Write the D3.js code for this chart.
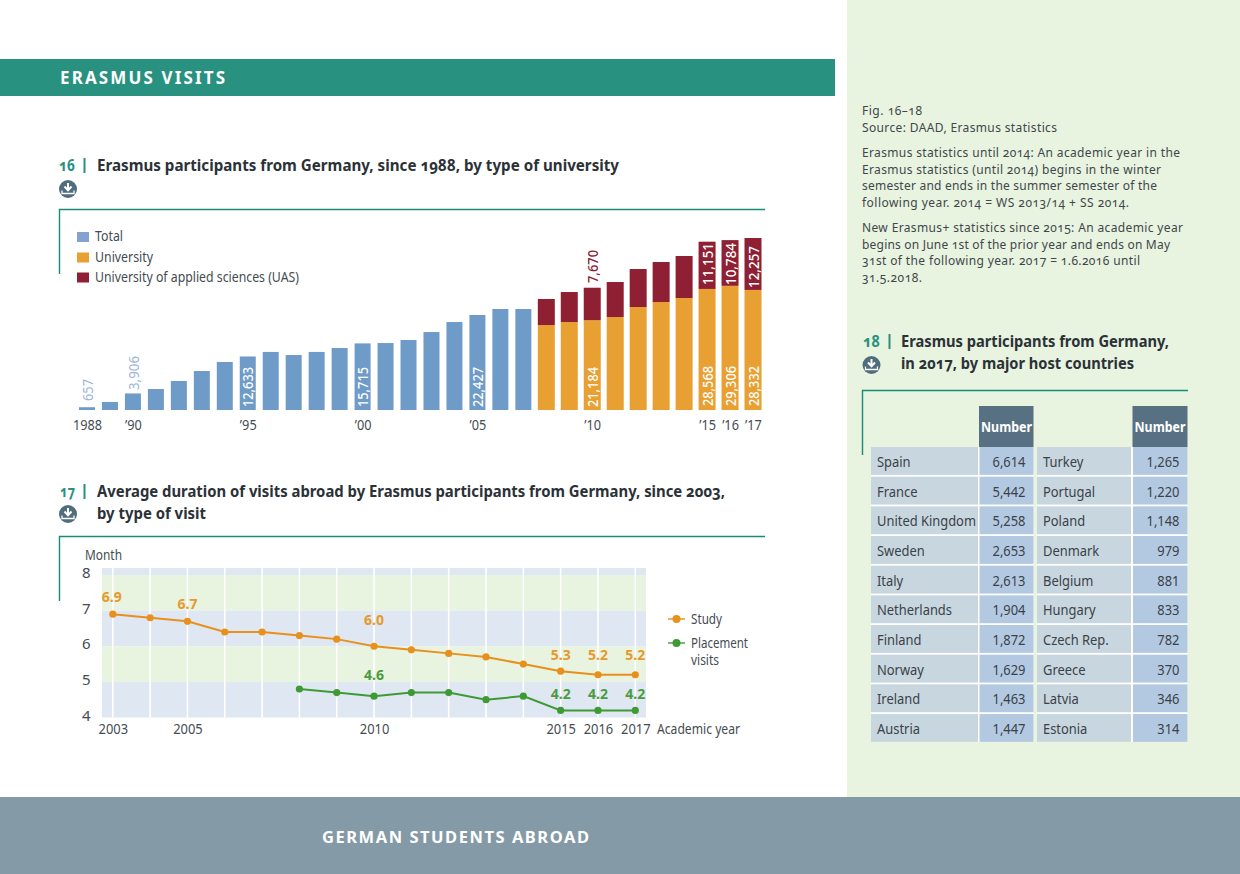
<!DOCTYPE html>
<html><head><meta charset="utf-8">
<script src="https://cdn.jsdelivr.net/npm/d3@7"></script>
<style>
html,body{margin:0;padding:0;background:#fff}
svg{display:block}
text{font-family:"Noto Sans",sans-serif;font-variant-numeric:oldstyle-nums}
.lin text,text.lin{font-variant-numeric:lining-nums}
</style></head><body>
<svg id="c" width="1240" height="874"></svg>
<script>
// ---- data ----
const barYears=d3.range(1988,2018);
const totalValues=[657,1900,3906,4950,6850,9200,11330,12633,13700,12980,13700,14630,15715,15800,16520,18400,20760,22427,23830,23830];
const uniYears=d3.range(2008,2018);
const universityValues=[20050,20760,21184,21940,24300,25480,26430,28568,29306,28332];
const uasValues=[6140,7080,7670,8260,8970,9440,9910,11151,10784,12257];
const barTickYears=[1988,1990,1995,2000,2005,2010,2015,2016,2017];
const barTickLabels=["1988","’90","’95","’00","’05","’10","’15","’16","’17"];
const legendLabels=["Total","University","University of applied sciences (UAS)"];

const studyYears=d3.range(2003,2018);
const studyValues=[6.9,6.8,6.7,6.4,6.4,6.3,6.2,6.0,5.9,5.8,5.7,5.5,5.3,5.2,5.2];
const placementYears=d3.range(2008,2018);
const placementValues=[4.8,4.7,4.6,4.7,4.7,4.5,4.6,4.2,4.2,4.2];
const lineTickYears=[2003,2005,2010,2015,2016,2017];
const monthTicks=[4,5,6,7,8];

const hostLeft=["Spain","France","United Kingdom","Sweden","Italy","Netherlands","Finland","Norway","Ireland","Austria"];
const hostLeftN=["6,614","5,442","5,258","2,653","2,613","1,904","1,872","1,629","1,463","1,447"];
const hostRight=["Turkey","Portugal","Poland","Denmark","Belgium","Hungary","Czech Rep.","Greece","Latvia","Estonia"];
const hostRightN=["1,265","1,220","1,148","979","881","833","782","370","346","314"];

const noteLines=["Fig. 16–18","Source: DAAD, Erasmus statistics",
"Erasmus statistics until 2014: An academic year in the","Erasmus statistics (until 2014) begins in the winter","semester and ends in the summer semester of the","following year. 2014 = WS 2013/14 + SS 2014.",
"New Erasmus+ statistics since 2015: An academic year","begins on June 1st of the prior year and ends on May","31st of the following year. 2017 = 1.6.2016 until","31.5.2018."];

// ---- colours ----
const C={teal:"#28917f",tealLine:"#1a8a78",panel:"#e8f3e0",foot:"#849aa6",ink:"#2b3237",soft:"#444c52",
 blue:"#6f9bc9",orange:"#e8a032",red:"#8f1f32",legBlue:"#84a2cf",lightBlue:"#9db6d9",
 bandB:"#dfe7f3",bandG:"#e8f3e0",lo:"#e8901c",lg:"#3f9a35",lbO:"#e69a2c",lbG:"#4b9c3d",
 head:"#587182",cellA:"#c8d6e0",cellB:"#b3c9e2",icon:"#4f6d7c"};

const svg=d3.select("#c");
function T(g,x,y,s,o={}){
 const t=g.append("text").attr("x",x).attr("y",y).text(s)
  .attr("fill",o.fill||C.soft).attr("font-size",o.size||13).attr("font-weight",o.weight||400)
  .attr("text-anchor",o.anchor||"start");
 if(o.lin)t.classed("lin",true);
 if(o.width)t.attr("textLength",o.width).attr("lengthAdjust",o.adjust||"spacingAndGlyphs");
 return t;
}
function squeeze(sel,f){sel.each(function(){const w=this.getComputedTextLength();d3.select(this).attr("textLength",w*f).attr("lengthAdjust","spacingAndGlyphs")});}
function R(g,x,y,w,h,f){return g.append("rect").attr("x",x).attr("y",y).attr("width",w).attr("height",h).attr("fill",f);}
function icon(g,cx,cy){
 g.append("circle").attr("cx",cx).attr("cy",cy).attr("r",9).attr("fill",C.icon);
 g.append("path").attr("d",`M${cx} ${cy-6}V${cy+1}M${cx-3.5} ${cy-2.5}L${cx} ${cy+1.2}L${cx+3.5} ${cy-2.5}`).attr("stroke","#fff").attr("stroke-width",2).attr("fill","none");
 g.append("path").attr("d",`M${cx-6} ${cy+1.5}V${cy+4.5}H${cx+6}V${cy+1.5}`).attr("stroke","#fff").attr("stroke-width",1.3).attr("fill","none");
}
function bracket(g,x0,x1,y0,y1){g.append("path").attr("d",`M${x0} ${y1}V${y0}H${x1}`).attr("fill","none").attr("stroke",C.tealLine).attr("stroke-width",1.4);}
function title(g,num,nx,nw,bx,tx,rows){
 T(g,nx,rows[0][1],num,{fill:C.teal,weight:700,size:16,width:nw});
 R(g,bx,rows[0][1]-13,2,15,C.teal);
 rows.forEach(r=>T(g,tx,r[1],r[0],{fill:C.ink,weight:700,size:15.5,width:r[2]}));
}

// ---- page ----
R(svg,847,0,393,797,C.panel);
R(svg,0,59,835,37,C.teal);
R(svg,0,797,1240,77,C.foot);
T(svg,60,84,"ERASMUS VISITS",{fill:"#fff",weight:700,size:17,width:165,adjust:"spacing"});
T(svg,322,843,"GERMAN STUDENTS ABROAD",{fill:"#fff",weight:700,size:16.5,width:267,adjust:"spacing"});

title(svg,"16",59,16,83.5,97,[["Erasmus participants from Germany, since 1988, by type of university",171,522]]);
icon(svg,68,189);
bracket(svg,59.5,765,209.5,274);
title(svg,"17",60,15,83.5,97,[["Average duration of visits abroad by Erasmus participants from Germany, since 2003,",497,628],["by type of visit",519,109]]);
icon(svg,68,514);
bracket(svg,59.5,765,536.5,601);
title(svg,"18",863,17,888.5,901,[["Erasmus participants from Germany,",347,268],["in 2017, by major host countries",369,233]]);
icon(svg,871.5,365);
bracket(svg,862.5,1188,390.5,455);

// notes
const noteY=[115,132,157,174,190,207,232,249,265,282];
const noteW=[60,195,318,299,295,267,321,308,278,60];
noteLines.forEach((s,i)=>T(svg,862,noteY[i],s,{size:12,fill:"#3f474c",width:noteW[i],adjust:"spacing"}));

// ---- chart 16 ----
const g16=svg.append("g");
const bx=d3.scaleLinear().domain([1988,2017]).range([87,753]);
const by=d3.scaleLinear().domain([0,40589]).range([410,238]);
const bw=16;
g16.selectAll("rect.t").data(totalValues).join("rect").attr("class","t")
 .attr("x",(d,i)=>bx(barYears[i])-bw/2).attr("width",bw).attr("y",d=>by(d)).attr("height",d=>by(0)-by(d)).attr("fill",C.blue);
g16.selectAll("rect.u").data(universityValues).join("rect").attr("class","u")
 .attr("x",(d,i)=>bx(uniYears[i])-bw/2-.5).attr("width",bw+1).attr("y",d=>by(d)).attr("height",d=>by(0)-by(d)).attr("fill",C.orange);
g16.selectAll("rect.r").data(uasValues).join("rect").attr("class","r")
 .attr("x",(d,i)=>bx(uniYears[i])-bw/2-.5).attr("width",bw+1).attr("y",(d,i)=>by(d+universityValues[i])).attr("height",d=>by(0)-by(d)).attr("fill",C.red);

const axB=g16.append("g").attr("class","lin").attr("transform","translate(0,416)")
 .call(d3.axisBottom(bx).tickValues(barTickYears).tickSize(0).tickFormat(d=>barTickLabels[barTickYears.indexOf(d)]));
axB.select(".domain").remove();
axB.selectAll("text").attr("font-size",15).attr("font-family",'"Noto Sans"').attr("fill",C.soft).attr("dy","0.71em").call(squeeze,.85);

function vlabel(year,value,base,col,len,weight){
 g16.append("text").attr("class","lin").attr("transform",`translate(${bx(year)+.2},${base}) rotate(-90)`)
  .attr("dy","0.36em").attr("font-size",15).attr("font-weight",weight||500).attr("fill",col)
  .attr("textLength",len).attr("lengthAdjust","spacingAndGlyphs").text(d3.format(",")(value));
}
vlabel(1988,totalValues[0],401,C.lightBlue,22,400);
vlabel(1990,totalValues[2],390,C.lightBlue,34,400);
vlabel(1995,totalValues[7],407,"#fff",40);
vlabel(2000,totalValues[12],407,"#fff",40);
vlabel(2005,totalValues[17],407,"#fff",40);
const topLabelBase={2015:285,2016:285,2017:288};
uniYears.forEach((y,i)=>{
 if(y===2010){vlabel(y,universityValues[i],407,"#fff",40);vlabel(y,uasValues[i],283,C.red,33);}
 if(y>=2015){vlabel(y,universityValues[i],406,"#fff",40);vlabel(y,uasValues[i],topLabelBase[y],"#fff",42);}
});
[C.legBlue,C.orange,C.red].forEach((c,i)=>{
 R(g16,77,[232,252.5,272.5][i],12,10,c);
 T(g16,95,[241,262,282][i],legendLabels[i],{size:14.5,width:[28,58,204][i],lin:true});
});

// ---- chart 17 ----
const g17=svg.append("g");
const lx=d3.scaleLinear().domain([2003,2017]).range([112.8,635.3]);
const ly=d3.scaleLinear().domain([4,8]).range([717.5,575]);
R(g17,102,ly(8)-7,544,7,C.bandB);
[[7,8,C.bandG],[6,7,C.bandB],[5,6,C.bandG],[4,5,C.bandB]].forEach(b=>R(g17,102,ly(b[1]),544,ly(b[0])-ly(b[1]),b[2]));
g17.selectAll("line.v").data(d3.range(2003,2018)).join("line").attr("class","v")
 .attr("x1",d=>lx(d)).attr("x2",d=>lx(d)).attr("y1",ly(8)-7).attr("y2",ly(4)).attr("stroke","#fff").attr("stroke-width",1.6);

const ax2=g17.append("g").attr("class","lin").attr("transform","translate(0,720.5)")
 .call(d3.axisBottom(lx).tickValues(lineTickYears).tickSize(0).tickFormat(d3.format("d")));
ax2.select(".domain").remove();
ax2.selectAll("text").attr("font-size",15).attr("fill",C.soft).attr("dy","0.71em").call(squeeze,.86);
const ay2=g17.append("g").attr("class","lin").attr("transform","translate(93.5,0)")
 .call(d3.axisLeft(ly).tickValues(monthTicks).tickSize(0).tickFormat(d3.format("d")));
ay2.select(".domain").remove();
ay2.selectAll("text").attr("font-size",15).attr("fill",C.soft).attr("dy","0.18em");
T(g17,85,560,"Month",{size:14.5,width:37,lin:true});
T(g17,657,734,"Academic year",{size:14.5,width:83,lin:true});

const ln=d3.line().x(d=>lx(d[0])).y(d=>ly(d[1]));
function series(years,vals,col){
 const pts=years.map((y,i)=>[y,vals[i]]);
 g17.append("path").attr("d",ln(pts)).attr("fill","none").attr("stroke",col).attr("stroke-width",2);
 g17.selectAll(null).data(pts).join("circle").attr("cx",d=>lx(d[0])).attr("cy",d=>ly(d[1])).attr("r",3.6).attr("fill",col);
}
series(studyYears,studyValues,C.lo);
series(placementYears,placementValues,C.lg);

// baseline offset of each value label from its point
const studyLabelOffset={2003:-12,2005:-12,2010:-21,2015:-11,2016:-14.5,2017:-14.5};
const placeLabelOffset={2010:-16,2015:-11,2016:-11,2017:-11};
function vals(years,values,off,col){
 years.forEach((y,i)=>{ if(off[y]===undefined)return;
  T(g17,lx(y)-(y===2003?1:0),ly(values[i])+off[y],values[i].toFixed(1),{size:14,weight:700,fill:col,anchor:"middle",width:20,lin:true});
 });
}
vals(studyYears,studyValues,studyLabelOffset,C.lbO);
vals(placementYears,placementValues,placeLabelOffset,C.lbG);

[["Study",619,C.lo],["Placement",643,C.lg]].forEach(d=>{
 g17.append("line").attr("x1",668).attr("x2",685).attr("y1",d[1]).attr("y2",d[1]).attr("stroke",d[2]).attr("stroke-width",1.4);
 g17.append("circle").attr("cx",676.5).attr("cy",d[1]).attr("r",4).attr("fill",d[2]);
 T(g17,691,d[1]+5,d[0],{size:14.5,width:d[0]==="Study"?31:57,lin:true});
});
T(g17,691,665,"visits",{size:14.5,width:28,lin:true});

// ---- table 18 ----
const g18=svg.append("g");
const cols=[{x:871,w:107,f:C.cellA},{x:979.5,w:54,f:C.cellB},{x:1037,w:94,f:C.cellA},{x:1133,w:54.5,f:C.cellB}];
const ty=d3.scaleLinear().domain([0,10]).range([447,743.7]);
R(g18,871,447,162.5,295,"#fff");
R(g18,1037,447,150.5,295,"#fff");
[1,3].forEach(c=>{
 R(g18,cols[c].x-.5,406,cols[c].w+.5,41,C.head);
 T(g18,cols[c].x+1.5,432,"Number",{fill:"#fff",weight:700,size:14,width:51,lin:true});
});
const rowsData=[hostLeft,hostLeftN,hostRight,hostRightN];
rowsData.forEach((arr,c)=>{
 g18.selectAll(null).data(arr).join("rect").attr("x",cols[c].x).attr("width",cols[c].w)
  .attr("y",(d,i)=>ty(i)).attr("height",ty(1)-ty(0)-1.8).attr("fill",cols[c].f);
 arr.forEach((s,i)=>{
  const num=c%2===1;
  const t=T(g18,num?cols[c].x+cols[c].w-8:cols[c].x+6,ty(i)+20,s,{size:15,anchor:num?"end":"start",fill:"#3a4247",lin:true});
  t.call(squeeze,.86);
 });
});
</script></body></html>
